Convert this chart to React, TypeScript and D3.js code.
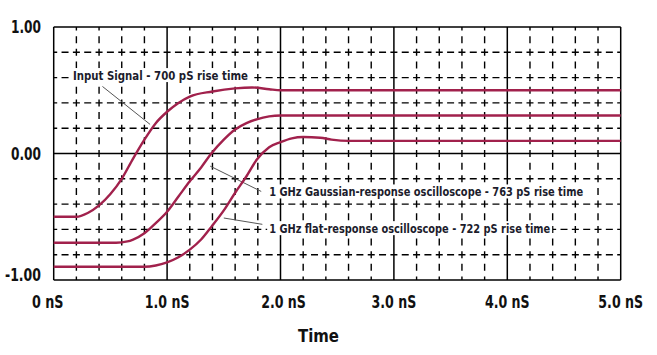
import React from "react";
import * as d3 from "d3";

const xTicks = [0, 1, 2, 3, 4, 5];
const xTickLabels = ["0 nS", "1.0 nS", "2.0 nS", "3.0 nS", "4.0 nS", "5.0 nS"];
const yTicks = [1, 0, -1];
const yTickLabels = ["1.00", "0.00", "-1.00"];
const xTitle = "Time";

// Input signal (700 pS rise time)
const inputT = [0, 0.2, 0.3, 0.4, 0.5, 0.6, 0.7, 0.8, 0.9, 1.0, 1.1, 1.2, 1.4, 1.6, 1.75, 1.9, 2.0, 5.0];
const inputV = [-0.5, -0.5, -0.47, -0.41, -0.32, -0.2, -0.04, 0.11, 0.24, 0.33, 0.4, 0.45, 0.49, 0.515, 0.522, 0.508, 0.5, 0.5];

// 1 GHz Gaussian-response oscilloscope (763 pS rise time)
const gaussT = [0, 0.55, 0.65, 0.7, 0.8, 0.9, 1.0, 1.1, 1.2, 1.3, 1.39, 1.5, 1.6, 1.7, 1.79, 1.9, 2.0, 5.0];
const gaussV = [-0.705, -0.705, -0.695, -0.68, -0.63, -0.55, -0.46, -0.34, -0.22, -0.11, 0, 0.11, 0.19, 0.24, 0.27, 0.293, 0.3, 0.3];

// 1 GHz flat-response oscilloscope (722 pS rise time)
const flatT = [0, 0.8, 0.9, 1.0, 1.1, 1.2, 1.3, 1.39, 1.5, 1.6, 1.7, 1.79, 1.9, 2.0, 2.1, 2.2, 2.35, 2.45, 2.6, 5.0];
const flatV = [-0.895, -0.895, -0.885, -0.86, -0.82, -0.76, -0.68, -0.58, -0.45, -0.31, -0.18, -0.05, 0.05, 0.09, 0.12, 0.13, 0.125, 0.11, 0.1, 0.1];

const annotationTexts = [
  "Input Signal - 700 pS rise time",
  "1 GHz Gaussian-response oscilloscope - 763 pS rise time",
  "1 GHz flat-response oscilloscope - 722 pS rise time",
];
const annotationAnchors = [
  { tx: 0.17, ty: 0.62, from: [0.43, 0.53], to: [0.85, 0.23] },
  { tx: 1.9, ty: -0.3, from: [1.38, -0.1], to: [1.83, -0.3] },
  { tx: 1.9, ty: -0.59, from: [1.5, -0.51], to: [1.84, -0.56] },
];
const annotationWidths = [175, 314, 281];

const W = 657;
const H = 355;
const FONT = '"DejaVu Sans Condensed", "DejaVu Sans", sans-serif';
const CURVE = "#a1214c";

export default function App() {
  const x = d3.scaleLinear().domain([0, 5]).range([53.7, 620.7]);
  const y = d3.scaleLinear().domain([-1, 1]).range([280, 27]);
  const line = d3
    .line<[number, number]>()
    .x((d) => x(d[0]))
    .y((d) => y(d[1]))
    .curve(d3.curveMonotoneX);

  const series = [
    inputT.map((t, i) => [t, inputV[i]] as [number, number]),
    gaussT.map((t, i) => [t, gaussV[i]] as [number, number]),
    flatT.map((t, i) => [t, flatV[i]] as [number, number]),
  ];

  const minorX = d3.range(0, 5.0001, 0.2).filter((v) => Math.abs(v - Math.round(v)) > 1e-6);
  const minorY = d3.range(-0.8, 0.8001, 0.2).filter((v) => Math.abs(v) > 1e-6);

  const [x0, x1] = x.range();
  const [y0, y1] = y.range();

  const yLabelW = [30, 30, 36];
  const xLabelW = [31.6, 44.7, 44.7, 44.7, 44.7, 44.7];

  return (
    <svg width={W} height={H} style={{ position: "absolute", left: 0, top: 0, background: "#fff" }}>
      <rect width={W} height={H} fill="#fff" />
      {/* dashed grid */}
      <g stroke="#000" strokeWidth={1.4} strokeDasharray="7,4.34" strokeDashoffset={3.5}>
        {minorY.map((v) => (
          <line key={"hy" + v} x1={x0} x2={x1} y1={y(v)} y2={y(v)} />
        ))}
      </g>
      <g stroke="#000" strokeWidth={1.4} strokeDasharray="7,5.65" strokeDashoffset={3.5}>
        {minorX.map((v) => (
          <line key={"vx" + v} x1={x(v)} x2={x(v)} y1={y1} y2={y0} />
        ))}
      </g>
      {/* solid grid */}
      <g stroke="#000" strokeWidth={1.5}>
        {xTicks.map((v) => (
          <line key={"mx" + v} x1={x(v)} x2={x(v)} y1={y1} y2={y0} />
        ))}
        <line x1={x0} x2={x1} y1={y(0)} y2={y(0)} />
        <line x1={x0} x2={x1} y1={y1} y2={y1} />
        <line x1={x0} x2={x1} y1={y0} y2={y0} />
      </g>
      {/* leader lines */}
      <g stroke="#555" strokeWidth={1}>
        {annotationAnchors.map((a, i) => (
          <line key={"l" + i} x1={x(a.from[0])} y1={y(a.from[1])} x2={x(a.to[0])} y2={y(a.to[1])} />
        ))}
      </g>
      {/* curves */}
      <g fill="none" stroke={CURVE} strokeWidth={2.4} strokeLinejoin="round">
        {series.map((s, i) => (
          <path key={"s" + i} d={line(s) || ""} />
        ))}
      </g>
      {/* annotation labels */}
      {annotationAnchors.map((a, i) => (
        <g key={"t" + i}>
          <rect x={x(a.tx) - 2} y={y(a.ty) - 7} width={annotationWidths[i] + 4} height={14} fill="#fff" />
          <text
            x={x(a.tx)}
            y={y(a.ty)}
            dy="0.36em"
            fontFamily={FONT}
            fontWeight="bold"
            fontSize={12.5}
            fill="#1c1c2c"
            textLength={annotationWidths[i]}
            lengthAdjust="spacingAndGlyphs"
          >
            {annotationTexts[i]}
          </text>
        </g>
      ))}
      {/* y tick labels */}
      {yTicks.map((v, i) => (
        <text
          key={"yl" + v}
          x={41 - yLabelW[i]}
          y={y(v) - (v === -1 ? 5 : 0)}
          dy="0.36em"
          fontFamily={FONT}
          fontWeight="bold"
          fontSize={17}
          fill="#111"
          textLength={yLabelW[i]}
          lengthAdjust="spacingAndGlyphs"
        >
          {yTickLabels[i]}
        </text>
      ))}
      {/* x tick labels */}
      {xTicks.map((v, i) => (
        <text
          key={"xl" + v}
          x={x(v) - xLabelW[i] / 2 - (v === 0 ? 6 : 0) + (v === 2 ? 3 : 0)}
          y={302}
          dy="0.36em"
          fontFamily={FONT}
          fontWeight="bold"
          fontSize={17}
          fill="#111"
          textLength={xLabelW[i]}
          lengthAdjust="spacingAndGlyphs"
        >
          {xTickLabels[i]}
        </text>
      ))}
      <text
        x={298}
        y={335}
        dy="0.36em"
        fontFamily={FONT}
        fontWeight="bold"
        fontSize={18.5}
        fill="#111"
        textLength={41}
        lengthAdjust="spacingAndGlyphs"
      >
        {xTitle}
      </text>
    </svg>
  );
}
